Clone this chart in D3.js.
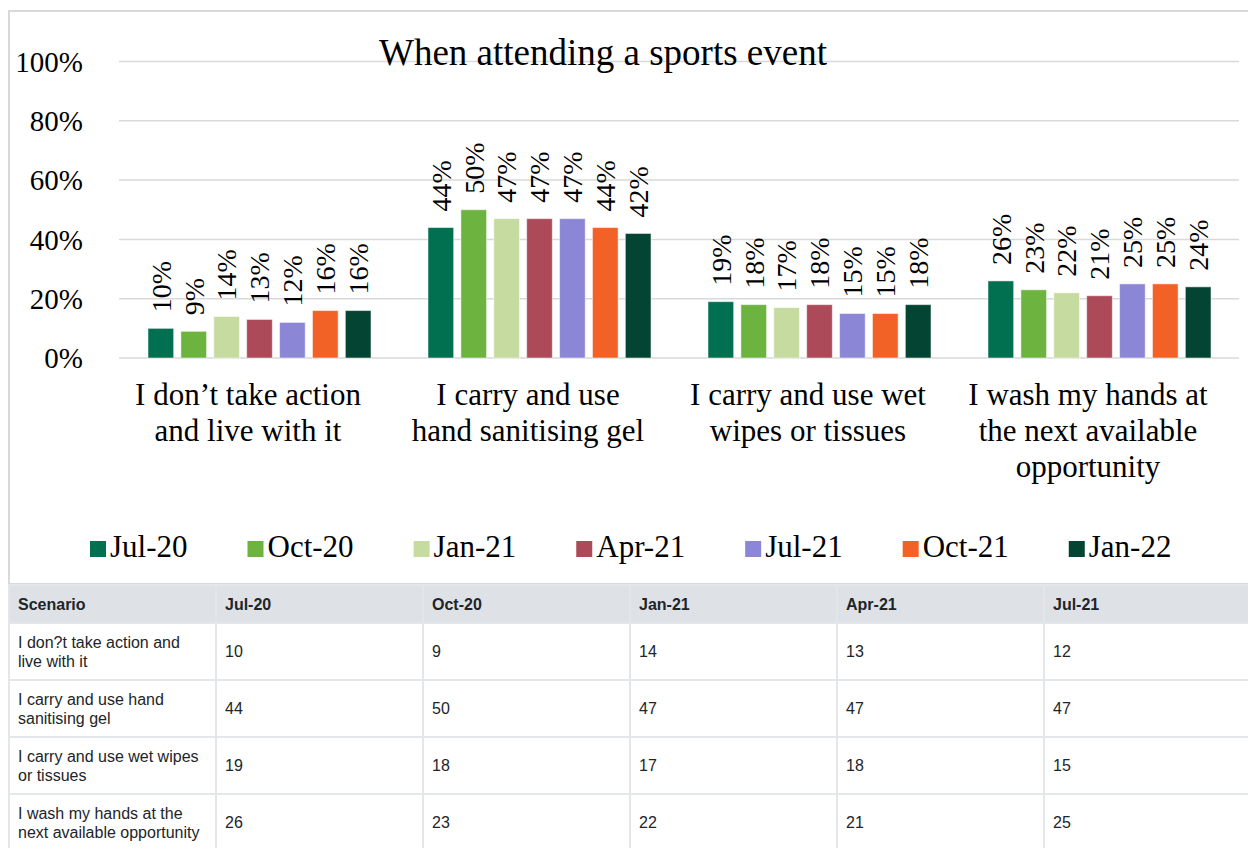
<!DOCTYPE html>
<html>
<head>
<meta charset="utf-8">
<script src="https://cdn.jsdelivr.net/npm/d3@7"></script>
<style>
  html, body { margin: 0; padding: 0; background: #fff; overflow: hidden; }
  body { width: 1248px; height: 848px; position: relative; }
  #chart { position: absolute; left: 0; top: 0; }
  #tbl { position: absolute; left: 8px; top: 584px; width: 1658px; border-collapse: collapse; table-layout: fixed;
         font-family: "Liberation Sans", Arial, sans-serif; font-size: 16px; color: #212529; }
  #tbl th, #tbl td { width: 189px; padding: 8.5px 8px; border: 2px solid #e4e7ea; text-align: left;
                     vertical-align: middle; line-height: 19px; }
  #tbl th { background: #dee2e6; font-weight: bold; }
</style>
</head>
<body>
<svg id="chart" width="1248" height="586"></svg>
<table id="tbl"></table>
<script>
// chart data
var title = "When attending a sports event";
var categories = [
  ["I don\u2019t take action", "and live with it"],
  ["I carry and use", "hand sanitising gel"],
  ["I carry and use wet", "wipes or tissues"],
  ["I wash my hands at", "the next available", "opportunity"]
];
var tableScenarios = [
  "I don?t take action and live with it",
  "I carry and use hand sanitising gel",
  "I carry and use wet wipes or tissues",
  "I wash my hands at the next available opportunity"
];
var waves = ["Jul-20", "Oct-20", "Jan-21", "Apr-21", "Jul-21", "Oct-21", "Jan-22"];
var colors = ["#007050", "#6db33f", "#c5dba0", "#ad4a5a", "#8c86d6", "#f26125", "#034532"];
// values per wave (%), one entry per category
var jul20 = [10, 44, 19, 26];
var oct20 = [9, 50, 18, 23];
var jan21 = [14, 47, 17, 22];
var apr21 = [13, 47, 18, 21];
var jul21 = [12, 47, 15, 25];
var oct21 = [16, 44, 15, 25];
var jan22 = [16, 42, 18, 24];
var series = [jul20, oct20, jan21, apr21, jul21, oct21, jan22];
var yTicks = [0, 0.2, 0.4, 0.6, 0.8, 1];

var serif = '"Liberation Serif", "Times New Roman", serif';
var svg = d3.select("#chart");

// outer frame of the chart
svg.append("rect")
  .attr("x", 9).attr("y", 11)
  .attr("width", 1300).attr("height", 573)
  .style("fill", "none").style("stroke", "#d9d9d9").style("stroke-width", 2);

var plot = { left: 119, right: 1239, top: 61.5, bottom: 358 };

var y = d3.scaleLinear().domain([0, 1]).range([plot.bottom, plot.top]);
var x0 = d3.scaleBand().domain(d3.range(categories.length)).range([plot.left, plot.right]);
var x1 = d3.scaleBand().domain(waves).range([29, 252]).paddingInner(0.22);

// gridlines
svg.append("g").selectAll("line").data(yTicks).enter().append("line")
  .attr("x1", plot.left).attr("x2", plot.right)
  .attr("y1", d => y(d)).attr("y2", d => y(d))
  .style("stroke", "#d9d9d9").style("stroke-width", 1.5);

// y tick labels
svg.append("g").selectAll("text").data(yTicks).enter().append("text")
  .attr("x", 83).attr("y", d => y(d)).attr("dy", "0.35em")
  .attr("text-anchor", "end")
  .style("font-family", serif).style("font-size", "29px")
  .text(d3.format(".0%"));

// bars + labels
var groups = svg.append("g").selectAll("g").data(categories).enter().append("g")
  .attr("transform", (d, i) => "translate(" + x0(i) + ",0)");

groups.each(function(c, ci) {
  var g = d3.select(this);
  var vals = waves.map((w, wi) => ({ wave: w, v: series[wi][ci] / 100, col: colors[wi] }));
  g.selectAll("rect").data(vals).enter().append("rect")
    .attr("x", d => x1(d.wave))
    .attr("y", d => y(d.v))
    .attr("width", x1.bandwidth())
    .attr("height", d => y(0) - y(d.v))
    .style("fill", d => d.col)
    .style("stroke", "rgba(255,255,255,0.5)").style("stroke-width", 1);
  g.selectAll("text.lbl").data(vals).enter().append("text")
    .classed("lbl", true)
    .attr("transform", d => "translate(" + (x1(d.wave) + x1.bandwidth() / 2) + "," + (y(d.v) - 16) + ") rotate(-90)")
    .attr("dy", "0.35em")
    .attr("text-anchor", "start")
    .style("font-family", serif).style("font-size", "28px")
    .text(d => d3.format(".0%")(d.v));
});

// category labels
var catText = svg.append("g").selectAll("text").data(categories).enter().append("text")
  .attr("x", (d, i) => x0(i) + x0.bandwidth() / 2 - 11)
  .attr("y", 405)
  .attr("text-anchor", "middle")
  .style("font-family", serif).style("font-size", "31px");
catText.selectAll("tspan").data(d => d).enter().append("tspan")
  .attr("x", function() { return d3.select(this.parentNode).attr("x"); })
  .attr("dy", (d, i) => i === 0 ? 0 : 36)
  .text(d => d);

// title
svg.append("text")
  .attr("x", 603).attr("y", 65)
  .attr("text-anchor", "middle")
  .style("font-family", serif).style("font-size", "37px")
  .text(title);

// legend
var lx = 90;
waves.forEach(function(w, i) {
  svg.append("rect").attr("x", lx).attr("y", 541).attr("width", 16).attr("height", 16)
    .style("fill", colors[i]);
  var t = svg.append("text").attr("x", lx + 20).attr("y", 557)
    .style("font-family", serif).style("font-size", "31px").text(w);
  lx += 20 + t.node().getComputedTextLength() + 60;
});

// data table
var tbl = d3.select("#tbl");
tbl.append("tr").selectAll("th").data(["Scenario"].concat(waves)).enter().append("th").text(d => d);
var rows = tbl.selectAll("tr.row").data(tableScenarios).enter().append("tr").classed("row", true);
rows.append("td").text(d => d);
rows.each(function(s, ci) {
  var r = d3.select(this);
  series.forEach(function(vals) { r.append("td").text(vals[ci]); });
});
</script>
</body>
</html>
